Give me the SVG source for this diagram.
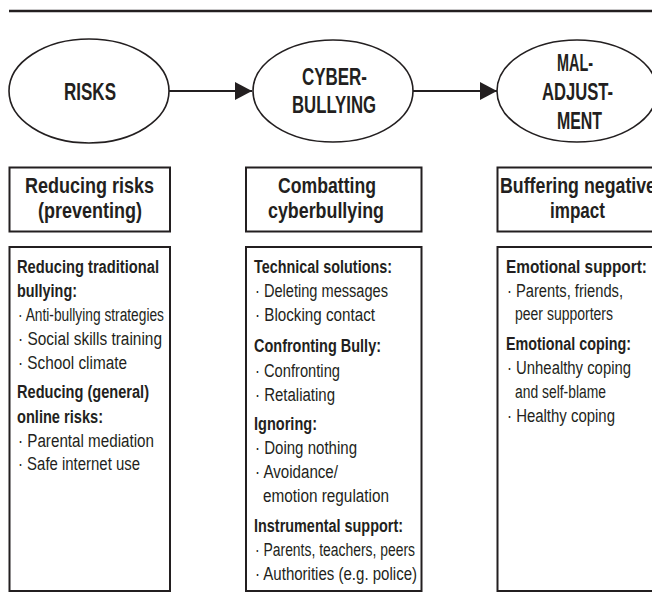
<svg xmlns="http://www.w3.org/2000/svg" width="652" height="613" viewBox="0 0 652 613">
<style>
.bg{fill:#ffffff}
.ell{fill:#ffffff;stroke:#231f20;stroke-width:1.6}
.box{fill:#ffffff;stroke:#231f20;stroke-width:2}
.conn{stroke:#231f20;stroke-width:1.8;fill:none}
.t{font-family:"Liberation Sans",Arial,sans-serif;fill:#231f20}
.big{font-size:23px;font-weight:bold}
.hd{font-size:22px;font-weight:bold}
.b{font-size:18px;font-weight:bold}
.r{font-size:18px}
</style>
<defs>
<marker id="ah" markerUnits="userSpaceOnUse" markerWidth="18" markerHeight="20" refX="17" refY="9" orient="auto">
<polygon points="0,0 17,9 0,18" fill="#231f20"/>
</marker>
</defs>
<rect class="bg" x="0" y="0" width="652" height="613"/>
<line x1="9" y1="11" x2="652" y2="11" stroke="#231f20" stroke-width="2.5"/>

<g id="connectors">
<line class="conn" x1="169" y1="91" x2="252" y2="91" marker-end="url(#ah)"/>
<line class="conn" x1="413" y1="91" x2="497" y2="91" marker-end="url(#ah)"/>
</g>

<g id="node-risks">
<ellipse class="ell" cx="89" cy="91" rx="80" ry="52"/>
<text class="t big" x="64" y="100" textLength="52" lengthAdjust="spacingAndGlyphs">RISKS</text>
</g>
<g id="node-cyberbullying">
<ellipse class="ell" cx="333" cy="91" rx="80" ry="51"/>
<text class="t big" x="302" y="85" textLength="65" lengthAdjust="spacingAndGlyphs">CYBER-</text>
<text class="t big" x="292" y="113" textLength="84" lengthAdjust="spacingAndGlyphs">BULLYING</text>
</g>
<g id="node-maladjustment">
<ellipse class="ell" cx="577" cy="91" rx="80" ry="51"/>
<text class="t big" x="557" y="71" textLength="36" lengthAdjust="spacingAndGlyphs">MAL-</text>
<text class="t big" x="542" y="100" textLength="71" lengthAdjust="spacingAndGlyphs">ADJUST-</text>
<text class="t big" x="557" y="129" textLength="45" lengthAdjust="spacingAndGlyphs">MENT</text>
</g>

<g id="header-reducing">
<rect class="box" x="9.5" y="167.5" width="160.5" height="64"/>
<text class="t hd" x="25" y="193" textLength="129" lengthAdjust="spacingAndGlyphs">Reducing risks</text>
<text class="t hd" x="38" y="218" textLength="104" lengthAdjust="spacingAndGlyphs">(preventing)</text>
</g>
<g id="header-combatting">
<rect class="box" x="246" y="167.5" width="175.5" height="64"/>
<text class="t hd" x="278" y="193" textLength="98" lengthAdjust="spacingAndGlyphs">Combatting</text>
<text class="t hd" x="268" y="218" textLength="116" lengthAdjust="spacingAndGlyphs">cyberbullying</text>
</g>
<g id="header-buffering">
<rect class="box" x="497.5" y="167.5" width="175" height="64"/>
<text class="t hd" x="500" y="193" textLength="156" lengthAdjust="spacingAndGlyphs">Buffering negative</text>
<text class="t hd" x="550" y="218" textLength="55" lengthAdjust="spacingAndGlyphs">impact</text>
</g>

<g id="list-reducing">
<rect class="box" x="9.5" y="247" width="160.5" height="344"/>
<text class="t b" x="17" y="273" textLength="142" lengthAdjust="spacingAndGlyphs">Reducing traditional</text>
<text class="t b" x="17" y="297" textLength="60" lengthAdjust="spacingAndGlyphs">bullying:</text>
<text class="t r" x="18" y="321" textLength="146" lengthAdjust="spacingAndGlyphs">· Anti-bullying strategies</text>
<text class="t r" x="18" y="345" textLength="144" lengthAdjust="spacingAndGlyphs">· Social skills training</text>
<text class="t r" x="18" y="369" textLength="109" lengthAdjust="spacingAndGlyphs">· School climate</text>
<text class="t b" x="17" y="398" textLength="132" lengthAdjust="spacingAndGlyphs">Reducing (general)</text>
<text class="t b" x="17" y="423" textLength="86" lengthAdjust="spacingAndGlyphs">online risks:</text>
<text class="t r" x="18" y="447" textLength="136" lengthAdjust="spacingAndGlyphs">· Parental mediation</text>
<text class="t r" x="18" y="470" textLength="122" lengthAdjust="spacingAndGlyphs">· Safe internet use</text>
</g>

<g id="list-combatting">
<rect class="box" x="246" y="247" width="175.5" height="344"/>
<text class="t b" x="254" y="273" textLength="138" lengthAdjust="spacingAndGlyphs">Technical solutions:</text>
<text class="t r" x="255" y="297" textLength="133" lengthAdjust="spacingAndGlyphs">· Deleting messages</text>
<text class="t r" x="255" y="321" textLength="120" lengthAdjust="spacingAndGlyphs">· Blocking contact</text>
<text class="t b" x="254" y="352" textLength="127" lengthAdjust="spacingAndGlyphs">Confronting Bully:</text>
<text class="t r" x="255" y="377" textLength="85" lengthAdjust="spacingAndGlyphs">· Confronting</text>
<text class="t r" x="255" y="401" textLength="80" lengthAdjust="spacingAndGlyphs">· Retaliating</text>
<text class="t b" x="254" y="430" textLength="63" lengthAdjust="spacingAndGlyphs">Ignoring:</text>
<text class="t r" x="255" y="454" textLength="102" lengthAdjust="spacingAndGlyphs">· Doing nothing</text>
<text class="t r" x="255" y="478" textLength="83" lengthAdjust="spacingAndGlyphs">· Avoidance/</text>
<text class="t r" x="263" y="502" textLength="126" lengthAdjust="spacingAndGlyphs">emotion regulation</text>
<text class="t b" x="254" y="532" textLength="149" lengthAdjust="spacingAndGlyphs">Instrumental support:</text>
<text class="t r" x="255" y="556" textLength="160" lengthAdjust="spacingAndGlyphs">· Parents, teachers, peers</text>
<text class="t r" x="255" y="580" textLength="162" lengthAdjust="spacingAndGlyphs">· Authorities (e.g. police)</text>
</g>

<g id="list-buffering">
<rect class="box" x="497.5" y="247" width="175" height="344"/>
<text class="t b" x="506" y="273" textLength="141" lengthAdjust="spacingAndGlyphs">Emotional support:</text>
<text class="t r" x="507" y="297" textLength="116" lengthAdjust="spacingAndGlyphs">· Parents, friends,</text>
<text class="t r" x="515" y="320" textLength="98" lengthAdjust="spacingAndGlyphs">peer supporters</text>
<text class="t b" x="506" y="350" textLength="125" lengthAdjust="spacingAndGlyphs">Emotional coping:</text>
<text class="t r" x="507" y="374" textLength="124" lengthAdjust="spacingAndGlyphs">· Unhealthy coping</text>
<text class="t r" x="515" y="398" textLength="91" lengthAdjust="spacingAndGlyphs">and self-blame</text>
<text class="t r" x="507" y="422" textLength="108" lengthAdjust="spacingAndGlyphs">· Healthy coping</text>
</g>
</svg>
